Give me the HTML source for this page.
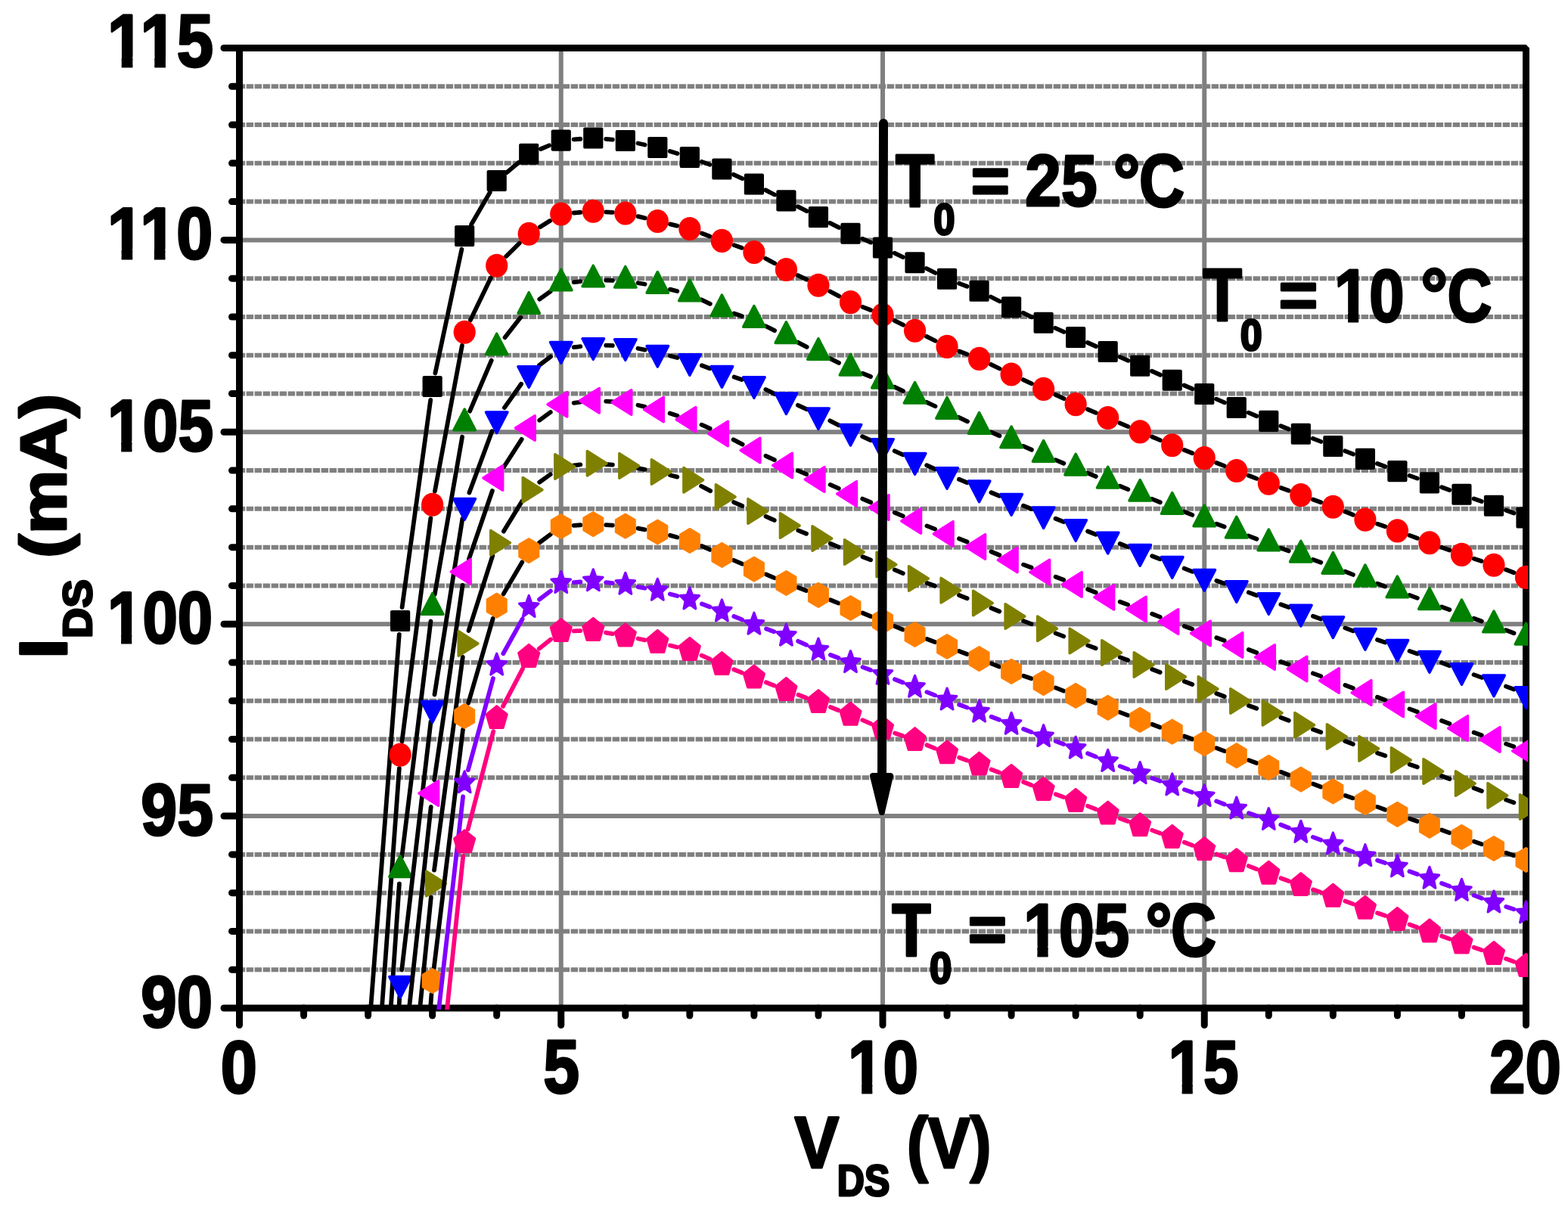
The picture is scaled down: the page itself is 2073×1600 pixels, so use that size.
<!DOCTYPE html><html><head><meta charset="utf-8"><title>I-V characteristics</title><style>html,body{margin:0;padding:0;background:#fff;width:2073px;height:1600px;overflow:hidden}svg{display:block}</style></head><body><svg width="2073" height="1600" viewBox="0 0 2073 1600"><defs><clipPath id="clip"><rect x="312" y="59" width="1708" height="1276"/></clipPath><clipPath id="c1"><path d="M-50 -200H1000V200H-50ZM1.14 -12.8H21.33V5H1.14ZM37.84 -12.8H70.53V5H37.84ZM87.03 -12.8H106V5H87.03Z" clip-rule="evenodd"/></clipPath><clipPath id="c2"><path d="M-50 -200H1000V200H-50ZM1.05 -12.65H21.01V5H1.05ZM37.32 -12.65H69.51V5H37.32ZM85.82 -12.65H104.57V5H85.82Z" clip-rule="evenodd"/></clipPath><clipPath id="c3"><path d="M-50 -200H1000V200H-50ZM1.05 -12.65H21.01V5H1.05ZM37.32 -12.65H56.07V5H37.32Z" clip-rule="evenodd"/></clipPath><clipPath id="c4"><path d="M-50 -200H1000V200H-50ZM1.05 -12.65H21.01V5H1.05ZM37.32 -12.65H56.07V5H37.32Z" clip-rule="evenodd"/></clipPath><clipPath id="c5"><path d="M-50 -200H1000V200H-50ZM1.11 -12.76H21.24V5H1.11ZM37.69 -12.76H56.59V5H37.69Z" clip-rule="evenodd"/></clipPath><clipPath id="c6"><path d="M-50 -200H1000V200H-50ZM1.2 -12.91H21.57V5H1.2ZM38.21 -12.91H57.33V5H38.21Z" clip-rule="evenodd"/></clipPath><clipPath id="c7"><path d="M-50 -200H1000V200H-50ZM1.15 -12.82H21.37V5H1.15ZM37.9 -12.82H56.89V5H37.9Z" clip-rule="evenodd"/></clipPath><clipPath id="c8"><path d="M-50 -200H1000V200H-50ZM1.1 -12.75H21.21V5H1.1ZM37.64 -12.75H56.52V5H37.64Z" clip-rule="evenodd"/></clipPath></defs><style>.mg{stroke:#808080;stroke-width:6;stroke-dasharray:9.5 1.5;stroke-dashoffset:3.65;stroke-linecap:butt}.Mg{stroke:#808080;stroke-width:6}.tk{stroke:#000;stroke-width:9;stroke-linecap:round}</style><rect width="100%" height="100%" fill="#fff"/><g id="grid"><line x1="318.25" y1="1282.22" x2="2017.5" y2="1282.22" class="mg"/><line x1="318.25" y1="1231.44" x2="2017.5" y2="1231.44" class="mg"/><line x1="318.25" y1="1180.66" x2="2017.5" y2="1180.66" class="mg"/><line x1="318.25" y1="1129.88" x2="2017.5" y2="1129.88" class="mg"/><line x1="318.25" y1="1028.32" x2="2017.5" y2="1028.32" class="mg"/><line x1="318.25" y1="977.54" x2="2017.5" y2="977.54" class="mg"/><line x1="318.25" y1="926.76" x2="2017.5" y2="926.76" class="mg"/><line x1="318.25" y1="875.98" x2="2017.5" y2="875.98" class="mg"/><line x1="318.25" y1="774.42" x2="2017.5" y2="774.42" class="mg"/><line x1="318.25" y1="723.64" x2="2017.5" y2="723.64" class="mg"/><line x1="318.25" y1="672.86" x2="2017.5" y2="672.86" class="mg"/><line x1="318.25" y1="622.08" x2="2017.5" y2="622.08" class="mg"/><line x1="318.25" y1="520.52" x2="2017.5" y2="520.52" class="mg"/><line x1="318.25" y1="469.74" x2="2017.5" y2="469.74" class="mg"/><line x1="318.25" y1="418.96" x2="2017.5" y2="418.96" class="mg"/><line x1="318.25" y1="368.18" x2="2017.5" y2="368.18" class="mg"/><line x1="318.25" y1="266.62" x2="2017.5" y2="266.62" class="mg"/><line x1="318.25" y1="215.84" x2="2017.5" y2="215.84" class="mg"/><line x1="318.25" y1="165.06" x2="2017.5" y2="165.06" class="mg"/><line x1="318.25" y1="114.28" x2="2017.5" y2="114.28" class="mg"/><line x1="316.5" y1="1079.1" x2="2017.5" y2="1079.1" class="Mg"/><line x1="316.5" y1="825.2" x2="2017.5" y2="825.2" class="Mg"/><line x1="316.5" y1="571.3" x2="2017.5" y2="571.3" class="Mg"/><line x1="316.5" y1="317.4" x2="2017.5" y2="317.4" class="Mg"/><line x1="741.75" y1="63.5" x2="741.75" y2="1333" class="Mg"/><line x1="1167" y1="63.5" x2="1167" y2="1333" class="Mg"/><line x1="1592.25" y1="63.5" x2="1592.25" y2="1333" class="Mg"/></g><g id="axes"><rect x="316.5" y="63.5" width="1701" height="1269.5" fill="none" stroke="#000" stroke-width="9" stroke-linejoin="bevel"/><line x1="316.5" y1="1333" x2="296" y2="1333" class="tk"/><line x1="316.5" y1="1282.22" x2="306.5" y2="1282.22" class="tk"/><line x1="316.5" y1="1231.44" x2="306.5" y2="1231.44" class="tk"/><line x1="316.5" y1="1180.66" x2="306.5" y2="1180.66" class="tk"/><line x1="316.5" y1="1129.88" x2="306.5" y2="1129.88" class="tk"/><line x1="316.5" y1="1079.1" x2="296" y2="1079.1" class="tk"/><line x1="316.5" y1="1028.32" x2="306.5" y2="1028.32" class="tk"/><line x1="316.5" y1="977.54" x2="306.5" y2="977.54" class="tk"/><line x1="316.5" y1="926.76" x2="306.5" y2="926.76" class="tk"/><line x1="316.5" y1="875.98" x2="306.5" y2="875.98" class="tk"/><line x1="316.5" y1="825.2" x2="296" y2="825.2" class="tk"/><line x1="316.5" y1="774.42" x2="306.5" y2="774.42" class="tk"/><line x1="316.5" y1="723.64" x2="306.5" y2="723.64" class="tk"/><line x1="316.5" y1="672.86" x2="306.5" y2="672.86" class="tk"/><line x1="316.5" y1="622.08" x2="306.5" y2="622.08" class="tk"/><line x1="316.5" y1="571.3" x2="296" y2="571.3" class="tk"/><line x1="316.5" y1="520.52" x2="306.5" y2="520.52" class="tk"/><line x1="316.5" y1="469.74" x2="306.5" y2="469.74" class="tk"/><line x1="316.5" y1="418.96" x2="306.5" y2="418.96" class="tk"/><line x1="316.5" y1="368.18" x2="306.5" y2="368.18" class="tk"/><line x1="316.5" y1="317.4" x2="296" y2="317.4" class="tk"/><line x1="316.5" y1="266.62" x2="306.5" y2="266.62" class="tk"/><line x1="316.5" y1="215.84" x2="306.5" y2="215.84" class="tk"/><line x1="316.5" y1="165.06" x2="306.5" y2="165.06" class="tk"/><line x1="316.5" y1="114.28" x2="306.5" y2="114.28" class="tk"/><line x1="316.5" y1="63.5" x2="296" y2="63.5" class="tk"/><line x1="316.5" y1="1333" x2="316.5" y2="1355.5" class="tk"/><line x1="401.55" y1="1333" x2="401.55" y2="1343" class="tk"/><line x1="486.6" y1="1333" x2="486.6" y2="1343" class="tk"/><line x1="571.65" y1="1333" x2="571.65" y2="1343" class="tk"/><line x1="656.7" y1="1333" x2="656.7" y2="1343" class="tk"/><line x1="741.75" y1="1333" x2="741.75" y2="1355.5" class="tk"/><line x1="826.8" y1="1333" x2="826.8" y2="1343" class="tk"/><line x1="911.85" y1="1333" x2="911.85" y2="1343" class="tk"/><line x1="996.9" y1="1333" x2="996.9" y2="1343" class="tk"/><line x1="1081.95" y1="1333" x2="1081.95" y2="1343" class="tk"/><line x1="1167" y1="1333" x2="1167" y2="1355.5" class="tk"/><line x1="1252.05" y1="1333" x2="1252.05" y2="1343" class="tk"/><line x1="1337.1" y1="1333" x2="1337.1" y2="1343" class="tk"/><line x1="1422.15" y1="1333" x2="1422.15" y2="1343" class="tk"/><line x1="1507.2" y1="1333" x2="1507.2" y2="1343" class="tk"/><line x1="1592.25" y1="1333" x2="1592.25" y2="1355.5" class="tk"/><line x1="1677.3" y1="1333" x2="1677.3" y2="1343" class="tk"/><line x1="1762.35" y1="1333" x2="1762.35" y2="1343" class="tk"/><line x1="1847.4" y1="1333" x2="1847.4" y2="1343" class="tk"/><line x1="1932.45" y1="1333" x2="1932.45" y2="1343" class="tk"/><line x1="2017.5" y1="1333" x2="2017.5" y2="1355.5" class="tk"/></g><g clip-path="url(#clip)"><g fill="none" stroke-width="5.8" stroke-linecap="round"><path d="M527.76 838.94L489.29 1345M531.57 803.19L569.21 528.81M575.4 493.44L610.42 329.56M623.1 296.68L647.78 254.32M670.09 227.9L685.84 214.85M714.99 197.02L725.98 192.33M758.71 184.36L767.32 183.74M801.22 183.89L809.85 184.61M843.47 189.53L852.65 191.47M885.66 199.99L895.52 203.01M927.92 213.86L938.3 217.64M969.91 230.81L981.36 236.19M1012.19 251.37L1024.14 257.53M1054.75 273.19L1066.62 279.21M1097.26 294.83L1109.17 300.92M1140.17 315.67L1151.31 320.58M1182.57 334.73L1193.96 340.02M1224.87 355.01L1236.71 360.99M1268.07 374.78L1278.56 378.72M1309.92 392.51L1321.76 398.49M1352.57 413.71L1364.15 419.29M1395.26 433.83L1406.52 438.92M1437.81 453L1449.01 458M1480.37 471.92L1491.51 476.83M1522.86 490.75L1534.06 495.75M1565.48 509.51L1576.49 514.24M1608.04 527.68L1618.99 532.32M1650.57 545.65L1661.5 550.25M1693.22 563.21L1703.9 567.44M1735.82 579.86L1746.36 583.89M1778.27 596.33L1788.96 600.57M1820.87 612.99L1831.4 617.01M1863.5 628.89L1873.83 632.61M1906.02 644.21L1916.36 647.94M1948.58 659.44L1958.85 663.06M1991.02 674.69L2001.45 678.56" stroke="#000000"/></g><g fill="#000000"><rect x="516.02" y="806.9" width="26.2" height="28.2" rx="2.2"/><rect x="558.55" y="496.9" width="26.2" height="28.2" rx="2.2"/><rect x="601.07" y="297.9" width="26.2" height="28.2" rx="2.2"/><rect x="643.6" y="224.9" width="26.2" height="28.2" rx="2.2"/><rect x="686.12" y="189.65" width="26.2" height="28.2" rx="2.2"/><rect x="728.65" y="171.5" width="26.2" height="28.2" rx="2.2"/><rect x="771.17" y="168.4" width="26.2" height="28.2" rx="2.2"/><rect x="813.7" y="171.9" width="26.2" height="28.2" rx="2.2"/><rect x="856.22" y="180.9" width="26.2" height="28.2" rx="2.2"/><rect x="898.75" y="193.9" width="26.2" height="28.2" rx="2.2"/><rect x="941.27" y="209.4" width="26.2" height="28.2" rx="2.2"/><rect x="983.8" y="229.4" width="26.2" height="28.2" rx="2.2"/><rect x="1026.33" y="251.3" width="26.2" height="28.2" rx="2.2"/><rect x="1068.85" y="272.9" width="26.2" height="28.2" rx="2.2"/><rect x="1111.38" y="294.65" width="26.2" height="28.2" rx="2.2"/><rect x="1153.9" y="313.4" width="26.2" height="28.2" rx="2.2"/><rect x="1196.43" y="333.15" width="26.2" height="28.2" rx="2.2"/><rect x="1238.95" y="354.65" width="26.2" height="28.2" rx="2.2"/><rect x="1281.47" y="370.65" width="26.2" height="28.2" rx="2.2"/><rect x="1324" y="392.15" width="26.2" height="28.2" rx="2.2"/><rect x="1366.53" y="412.65" width="26.2" height="28.2" rx="2.2"/><rect x="1409.05" y="431.9" width="26.2" height="28.2" rx="2.2"/><rect x="1451.58" y="450.9" width="26.2" height="28.2" rx="2.2"/><rect x="1494.1" y="469.65" width="26.2" height="28.2" rx="2.2"/><rect x="1536.62" y="488.65" width="26.2" height="28.2" rx="2.2"/><rect x="1579.15" y="506.9" width="26.2" height="28.2" rx="2.2"/><rect x="1621.67" y="524.9" width="26.2" height="28.2" rx="2.2"/><rect x="1664.2" y="542.8" width="26.2" height="28.2" rx="2.2"/><rect x="1706.73" y="559.65" width="26.2" height="28.2" rx="2.2"/><rect x="1749.25" y="575.9" width="26.2" height="28.2" rx="2.2"/><rect x="1791.78" y="592.8" width="26.2" height="28.2" rx="2.2"/><rect x="1834.3" y="609" width="26.2" height="28.2" rx="2.2"/><rect x="1876.83" y="624.3" width="26.2" height="28.2" rx="2.2"/><rect x="1919.35" y="639.65" width="26.2" height="28.2" rx="2.2"/><rect x="1961.88" y="654.65" width="26.2" height="28.2" rx="2.2"/><rect x="2004.4" y="670.4" width="26.2" height="28.2" rx="2.2"/></g><g fill="none" stroke-width="5.8" stroke-linecap="round"><path d="M527.83 1016.05L504.03 1345M531.42 980.26L569.36 685.09M574.94 649.59L610.88 456.91M621.92 423.23L648.96 367.27M669.13 338.97L686.79 321.53M713.91 300.18L727.06 292.07M758.69 281.51L767.33 280.74M801.24 280.35L809.83 280.9M843.36 286.09L852.77 288.41M885.92 296.4L895.25 298.6M927.88 308.49L938.35 312.41M970.49 324.12L980.78 327.78M1012.04 341.69L1024.29 348.31M1054.86 364.03L1066.51 369.72M1097.18 385.25L1109.25 391.6M1140.42 405.84L1151.06 410.01M1182.41 423.86L1194.12 429.64M1224.91 444.9L1236.66 450.75M1268.07 464.43L1278.56 468.37M1310.03 481.89L1321.64 487.51M1352.71 502.12L1364.01 507.28M1395.14 521.77L1406.64 527.23M1437.95 541.25L1448.88 545.85M1480.41 559.31L1491.46 564.09M1523 577.53L1533.92 582.12M1565.65 595.06L1576.33 599.29M1608.17 611.93L1618.86 616.17M1650.73 628.73L1661.35 632.87M1693.37 644.96L1703.75 648.74M1735.88 660.51L1746.29 664.34M1778.27 676.56L1788.95 680.79M1821.02 692.72L1831.25 696.28M1863.44 707.88L1873.89 711.77M1905.98 723.66L1916.39 727.49M1948.7 738.69L1958.73 741.96M1990.98 753.33L2001.5 757.32" stroke="#000000"/></g><g fill="#FF0000"><ellipse cx="529.12" cy="998.1" rx="14.6" ry="15.6"/><ellipse cx="571.65" cy="667.25" rx="14.6" ry="15.6"/><ellipse cx="614.17" cy="439.25" rx="14.6" ry="15.6"/><ellipse cx="656.7" cy="351.25" rx="14.6" ry="15.6"/><ellipse cx="699.22" cy="309.25" rx="14.6" ry="15.6"/><ellipse cx="741.75" cy="283" rx="14.6" ry="15.6"/><ellipse cx="784.27" cy="279.25" rx="14.6" ry="15.6"/><ellipse cx="826.8" cy="282" rx="14.6" ry="15.6"/><ellipse cx="869.32" cy="292.5" rx="14.6" ry="15.6"/><ellipse cx="911.85" cy="302.5" rx="14.6" ry="15.6"/><ellipse cx="954.38" cy="318.4" rx="14.6" ry="15.6"/><ellipse cx="996.9" cy="333.5" rx="14.6" ry="15.6"/><ellipse cx="1039.42" cy="356.5" rx="14.6" ry="15.6"/><ellipse cx="1081.95" cy="377.25" rx="14.6" ry="15.6"/><ellipse cx="1124.47" cy="399.6" rx="14.6" ry="15.6"/><ellipse cx="1167" cy="416.25" rx="14.6" ry="15.6"/><ellipse cx="1209.53" cy="437.25" rx="14.6" ry="15.6"/><ellipse cx="1252.05" cy="458.4" rx="14.6" ry="15.6"/><ellipse cx="1294.57" cy="474.4" rx="14.6" ry="15.6"/><ellipse cx="1337.1" cy="495" rx="14.6" ry="15.6"/><ellipse cx="1379.62" cy="514.4" rx="14.6" ry="15.6"/><ellipse cx="1422.15" cy="534.6" rx="14.6" ry="15.6"/><ellipse cx="1464.67" cy="552.5" rx="14.6" ry="15.6"/><ellipse cx="1507.2" cy="570.9" rx="14.6" ry="15.6"/><ellipse cx="1549.72" cy="588.75" rx="14.6" ry="15.6"/><ellipse cx="1592.25" cy="605.6" rx="14.6" ry="15.6"/><ellipse cx="1634.77" cy="622.5" rx="14.6" ry="15.6"/><ellipse cx="1677.3" cy="639.1" rx="14.6" ry="15.6"/><ellipse cx="1719.83" cy="654.6" rx="14.6" ry="15.6"/><ellipse cx="1762.35" cy="670.25" rx="14.6" ry="15.6"/><ellipse cx="1804.88" cy="687.1" rx="14.6" ry="15.6"/><ellipse cx="1847.4" cy="701.9" rx="14.6" ry="15.6"/><ellipse cx="1889.92" cy="717.75" rx="14.6" ry="15.6"/><ellipse cx="1932.45" cy="733.4" rx="14.6" ry="15.6"/><ellipse cx="1974.97" cy="747.25" rx="14.6" ry="15.6"/><ellipse cx="2017.5" cy="763.4" rx="14.6" ry="15.6"/></g><g fill="none" stroke-width="5.8" stroke-linecap="round"><path d="M527.9 1168.74L515.88 1345M531.31 1132.93L569.46 821.53M574.74 785.98L611.09 577.78M621.16 543.67L649.71 476.59M667.53 446.31L688.4 419.56M713.3 395.59L727.68 385.28M758.65 373.2L767.38 372.17M801.27 370.68L809.81 370.93M843.59 374.26L852.54 375.76M885.88 382.67L895.29 385M927.39 396.39L938.84 401.78M970.56 414.6L980.72 418.07M1012.28 431.25L1024.04 437.12M1054.71 452.66L1066.66 458.81M1097.39 474.22L1109.04 479.9M1140.4 493.74L1151.08 497.97M1182.51 511.65L1194.01 517.12M1225.05 531.82L1236.53 537.25M1267.59 551.89L1279.04 557.28M1310.3 571.42L1321.38 576.24M1352.82 589.92L1363.9 594.74M1395.45 608.17L1406.33 612.7M1438.04 625.67L1448.78 629.99M1480.57 642.77L1491.31 647.09M1523.09 659.87L1533.83 664.19M1565.69 676.78L1576.29 680.89M1608.36 692.84L1618.67 696.53M1650.7 708.58L1661.37 712.79M1693.41 724.84L1703.72 728.53M1735.92 740.07L1746.25 743.79M1778.31 755.78L1788.91 759.89M1821 771.77L1831.27 775.39M1863.45 787.01L1873.87 790.86M1906.02 802.57L1916.35 806.29M1948.58 817.77L1958.85 821.39M1990.97 833.18L2001.5 837.19" stroke="#000000"/></g><g fill="#008000" stroke="#008000" stroke-width="3.5" stroke-linejoin="round"><polygon points="529.12,1131.8 543.38,1159.4 514.88,1159.4"/><polygon points="571.65,784.7 585.9,812.3 557.4,812.3"/><polygon points="614.17,541.1 628.42,568.7 599.92,568.7"/><polygon points="656.7,441.2 670.95,468.8 642.45,468.8"/><polygon points="699.22,386.7 713.47,414.3 684.97,414.3"/><polygon points="741.75,356.2 756,383.8 727.5,383.8"/><polygon points="784.27,351.2 798.52,378.8 770.02,378.8"/><polygon points="826.8,352.45 841.05,380.05 812.55,380.05"/><polygon points="869.32,359.6 883.57,387.2 855.07,387.2"/><polygon points="911.85,370.1 926.1,397.7 897.6,397.7"/><polygon points="954.38,390.1 968.62,417.7 940.12,417.7"/><polygon points="996.9,404.6 1011.15,432.2 982.65,432.2"/><polygon points="1039.42,425.8 1053.67,453.4 1025.17,453.4"/><polygon points="1081.95,447.7 1096.2,475.3 1067.7,475.3"/><polygon points="1124.47,468.45 1138.72,496.05 1110.22,496.05"/><polygon points="1167,485.3 1181.25,512.9 1152.75,512.9"/><polygon points="1209.53,505.5 1223.78,533.1 1195.28,533.1"/><polygon points="1252.05,525.6 1266.3,553.2 1237.8,553.2"/><polygon points="1294.57,545.6 1308.82,573.2 1280.32,573.2"/><polygon points="1337.1,564.1 1351.35,591.7 1322.85,591.7"/><polygon points="1379.62,582.6 1393.88,610.2 1365.38,610.2"/><polygon points="1422.15,600.3 1436.4,627.9 1407.9,627.9"/><polygon points="1464.67,617.4 1478.92,645 1450.42,645"/><polygon points="1507.2,634.5 1521.45,662.1 1492.95,662.1"/><polygon points="1549.72,651.6 1563.97,679.2 1535.47,679.2"/><polygon points="1592.25,668.1 1606.5,695.7 1578,695.7"/><polygon points="1634.77,683.3 1649.02,710.9 1620.52,710.9"/><polygon points="1677.3,700.1 1691.55,727.7 1663.05,727.7"/><polygon points="1719.83,715.3 1734.08,742.9 1705.58,742.9"/><polygon points="1762.35,730.6 1776.6,758.2 1748.1,758.2"/><polygon points="1804.88,747.1 1819.12,774.7 1790.62,774.7"/><polygon points="1847.4,762.1 1861.65,789.7 1833.15,789.7"/><polygon points="1889.92,777.8 1904.17,805.4 1875.67,805.4"/><polygon points="1932.45,793.1 1946.7,820.7 1918.2,820.7"/><polygon points="1974.97,808.1 1989.22,835.7 1960.72,835.7"/><polygon points="2017.5,824.3 2031.75,851.9 2003.25,851.9"/></g><g fill="none" stroke-width="5.8" stroke-linecap="round"><path d="M528.23 1318.19L526.91 1345M531.21 1282.35L569.56 954.08M574.47 918.47L611.36 685.97M620.39 651.46L650.49 570.32M666.88 539.15L689.05 507.74M713.05 482.85L727.92 471.59M758.65 459.21L767.37 458.22M801.27 456.72L809.8 456.92M843.49 460.75L852.64 462.63M885.82 470.43L895.36 472.95M927.88 483.31L938.35 487.22M970.6 498.6L980.68 501.94M1012.28 514.98L1024.04 520.85M1054.95 535.84L1066.42 541.24M1097.29 556.32L1109.13 562.31M1140.09 577.17L1151.38 582.31M1182.69 596.35L1193.84 601.28M1225.18 615.25L1236.4 620.29M1267.91 633.8L1278.72 638.23M1310.42 651.24L1321.25 655.7M1352.97 668.67L1363.76 673.06M1395.55 685.81L1406.22 690.02M1438.1 702.54L1448.72 706.69M1480.66 719.04L1491.22 723.09M1523.22 735.24L1533.71 739.19M1565.63 751.57L1576.35 755.86M1608.37 767.94L1618.66 771.59M1650.79 783.34L1661.28 787.29M1693.36 799.21L1703.76 803.02M1735.9 814.78L1746.28 818.56M1778.39 830.38L1788.83 834.26M1821 845.91L1831.27 849.53M1863.54 860.87L1873.79 864.46M1905.92 876.21L1916.45 880.22M1948.54 892.14L1958.89 895.89M1991.04 907.61L2001.44 911.42" stroke="#000000"/></g><g fill="#0000FF" stroke="#0000FF" stroke-width="3.5" stroke-linejoin="round"><polygon points="514.88,1291.6 543.38,1291.6 529.12,1319.2"/><polygon points="557.4,927.6 585.9,927.6 571.65,955.2"/><polygon points="599.92,659.6 628.42,659.6 614.17,687.2"/><polygon points="642.45,544.95 670.95,544.95 656.7,572.55"/><polygon points="684.97,484.7 713.47,484.7 699.22,512.3"/><polygon points="727.5,452.5 756,452.5 741.75,480.1"/><polygon points="770.02,447.7 798.52,447.7 784.27,475.3"/><polygon points="812.55,448.7 841.05,448.7 826.8,476.3"/><polygon points="855.07,457.45 883.57,457.45 869.32,485.05"/><polygon points="897.6,468.7 926.1,468.7 911.85,496.3"/><polygon points="940.12,484.6 968.62,484.6 954.38,512.2"/><polygon points="982.65,498.7 1011.15,498.7 996.9,526.3"/><polygon points="1025.17,519.9 1053.67,519.9 1039.42,547.5"/><polygon points="1067.7,539.95 1096.2,539.95 1081.95,567.55"/><polygon points="1110.22,561.45 1138.72,561.45 1124.47,589.05"/><polygon points="1152.75,580.8 1181.25,580.8 1167,608.4"/><polygon points="1195.28,599.6 1223.78,599.6 1209.53,627.2"/><polygon points="1237.8,618.7 1266.3,618.7 1252.05,646.3"/><polygon points="1280.32,636.1 1308.82,636.1 1294.57,663.7"/><polygon points="1322.85,653.6 1351.35,653.6 1337.1,681.2"/><polygon points="1365.38,670.9 1393.88,670.9 1379.62,698.5"/><polygon points="1407.9,687.7 1436.4,687.7 1422.15,715.3"/><polygon points="1450.42,704.3 1478.92,704.3 1464.67,731.9"/><polygon points="1492.95,720.6 1521.45,720.6 1507.2,748.2"/><polygon points="1535.47,736.6 1563.97,736.6 1549.72,764.2"/><polygon points="1578,753.6 1606.5,753.6 1592.25,781.2"/><polygon points="1620.52,768.7 1649.02,768.7 1634.77,796.3"/><polygon points="1663.05,784.7 1691.55,784.7 1677.3,812.3"/><polygon points="1705.58,800.3 1734.08,800.3 1719.83,827.9"/><polygon points="1748.1,815.8 1776.6,815.8 1762.35,843.4"/><polygon points="1790.62,831.6 1819.12,831.6 1804.88,859.2"/><polygon points="1833.15,846.6 1861.65,846.6 1847.4,874.2"/><polygon points="1875.67,861.5 1904.17,861.5 1889.92,889.1"/><polygon points="1918.2,877.7 1946.7,877.7 1932.45,905.3"/><polygon points="1960.72,893.1 1989.22,893.1 1974.97,920.7"/><polygon points="2003.25,908.7 2031.75,908.7 2017.5,936.3"/></g><g fill="none" stroke-width="5.8" stroke-linecap="round"><path d="M569.72 1066.98L539.7 1345M574.23 1031.31L611.59 773.79M619.98 739.08L650.89 649.02M666.27 617.22L689.65 580.88M713.19 555.74L727.78 545.01M758.65 532.76L767.38 531.74M801.25 530.69L809.82 531.16M843.44 535.78L852.68 537.82M885.63 546.58L895.54 549.67M927.54 561.67L938.68 566.58M969.65 581.4L981.63 587.6M1012.44 602.81L1023.89 608.19M1055.16 622.31L1066.21 627.09M1097.61 640.9L1108.81 645.9M1140.25 659.61L1151.23 664.29M1182.77 677.71L1193.75 682.39M1225.45 695.39L1236.12 699.61M1267.95 712.26L1278.67 716.54M1310.4 729.49L1321.28 734.01M1353.12 746.63L1363.61 750.57M1395.61 762.73L1406.17 766.77M1438.07 779.21L1448.75 783.44M1480.71 795.73L1491.16 799.62M1523.16 811.79L1533.76 815.91M1565.81 827.93L1576.16 831.67M1608.34 843.33L1618.69 847.07M1650.77 858.99L1661.3 863.01M1693.39 874.93L1703.74 878.67M1735.9 890.36L1746.28 894.14M1778.38 905.99L1788.85 909.91M1820.94 921.79L1831.34 925.61M1863.46 937.39L1873.86 941.21M1905.97 953.06L1916.41 956.94M1948.58 968.59L1958.85 972.21M1991.09 983.62L2001.38 987.28" stroke="#000000"/></g><g fill="#FF00FF" stroke="#FF00FF" stroke-width="3.5" stroke-linejoin="round"><polygon points="553.93,1049.1 579.63,1032.85 579.63,1065.35"/><polygon points="596.46,756 622.16,739.75 622.16,772.25"/><polygon points="638.98,632.1 664.68,615.85 664.68,648.35"/><polygon points="681.51,566 707.21,549.75 707.21,582.25"/><polygon points="724.03,534.75 749.73,518.5 749.73,551"/><polygon points="766.56,529.75 792.26,513.5 792.26,546"/><polygon points="809.08,532.1 834.78,515.85 834.78,548.35"/><polygon points="851.61,541.5 877.31,525.25 877.31,557.75"/><polygon points="894.13,554.75 919.83,538.5 919.83,571"/><polygon points="936.66,573.5 962.36,557.25 962.36,589.75"/><polygon points="979.18,595.5 1004.88,579.25 1004.88,611.75"/><polygon points="1021.71,615.5 1047.41,599.25 1047.41,631.75"/><polygon points="1064.23,633.9 1089.93,617.65 1089.93,650.15"/><polygon points="1106.76,652.9 1132.46,636.65 1132.46,669.15"/><polygon points="1149.28,671 1174.98,654.75 1174.98,687.25"/><polygon points="1191.81,689.1 1217.51,672.85 1217.51,705.35"/><polygon points="1234.33,705.9 1260.03,689.65 1260.03,722.15"/><polygon points="1276.86,722.9 1302.56,706.65 1302.56,739.15"/><polygon points="1319.38,740.6 1345.08,724.35 1345.08,756.85"/><polygon points="1361.91,756.6 1387.61,740.35 1387.61,772.85"/><polygon points="1404.43,772.9 1430.13,756.65 1430.13,789.15"/><polygon points="1446.96,789.75 1472.66,773.5 1472.66,806"/><polygon points="1489.48,805.6 1515.18,789.35 1515.18,821.85"/><polygon points="1532.01,822.1 1557.71,805.85 1557.71,838.35"/><polygon points="1574.53,837.5 1600.23,821.25 1600.23,853.75"/><polygon points="1617.06,852.9 1642.76,836.65 1642.76,869.15"/><polygon points="1659.58,869.1 1685.28,852.85 1685.28,885.35"/><polygon points="1702.11,884.5 1727.81,868.25 1727.81,900.75"/><polygon points="1744.63,900 1770.33,883.75 1770.33,916.25"/><polygon points="1787.16,915.9 1812.86,899.65 1812.86,932.15"/><polygon points="1829.68,931.5 1855.38,915.25 1855.38,947.75"/><polygon points="1872.21,947.1 1897.91,930.85 1897.91,963.35"/><polygon points="1914.73,962.9 1940.43,946.65 1940.43,979.15"/><polygon points="1957.26,977.9 1982.96,961.65 1982.96,994.15"/><polygon points="1999.78,993 2025.48,976.75 2025.48,1009.25"/></g><g fill="none" stroke-width="5.8" stroke-linecap="round"><path d="M569.86 1186.4L554 1345M574.04 1150.68L611.79 868.82M619.62 833.95L651.26 734.8M665.9 702.61L690.03 662.89M713.28 637.62L727.7 627.23M758.67 615.37L767.35 614.48M801.23 614.01L809.84 614.64M843.52 619.13L852.6 620.87M885.87 628.24L895.31 630.61M927.08 642.75L939.15 649.1M970.06 664.04L981.21 668.96M1012.55 682.93L1023.77 687.97M1055.32 701.39L1066.06 705.71M1097.75 718.75L1108.68 723.35M1140.43 736.23L1151.05 740.37M1182.74 753.41L1193.79 758.19M1225.58 770.93L1236 774.77M1267.98 786.99L1278.65 791.21M1310.42 804.02L1321.25 808.48M1353.09 821.11L1363.63 825.14M1395.62 837.36L1406.16 841.39M1438.21 853.39L1448.61 857.21M1480.69 869.13L1491.18 873.07M1523.23 885.09L1533.7 889.01M1565.75 900.99L1576.22 904.91M1608.26 916.96L1618.77 920.94M1650.82 932.94L1661.25 936.81M1693.32 948.78L1703.81 952.72M1735.92 964.56L1746.26 968.29M1778.38 980.09L1788.85 984.01M1821 995.69L1831.27 999.31M1863.53 1010.69L1873.8 1014.31M1905.93 1026.06L1916.44 1030.04M1948.49 1042.06L1958.93 1045.94M1991.09 1057.62L2001.38 1061.28" stroke="#000000"/></g><g fill="#808000" stroke="#808000" stroke-width="3.5" stroke-linejoin="round"><polygon points="589.37,1168.5 563.67,1152.25 563.67,1184.75"/><polygon points="631.89,851 606.19,834.75 606.19,867.25"/><polygon points="674.42,717.75 648.72,701.5 648.72,734"/><polygon points="716.94,647.75 691.24,631.5 691.24,664"/><polygon points="759.47,617.1 733.77,600.85 733.77,633.35"/><polygon points="801.99,612.75 776.29,596.5 776.29,629"/><polygon points="844.52,615.9 818.82,599.65 818.82,632.15"/><polygon points="887.04,624.1 861.34,607.85 861.34,640.35"/><polygon points="929.57,634.75 903.87,618.5 903.87,651"/><polygon points="972.09,657.1 946.39,640.85 946.39,673.35"/><polygon points="1014.62,675.9 988.92,659.65 988.92,692.15"/><polygon points="1057.14,695 1031.44,678.75 1031.44,711.25"/><polygon points="1099.67,712.1 1073.97,695.85 1073.97,728.35"/><polygon points="1142.19,730 1116.49,713.75 1116.49,746.25"/><polygon points="1184.72,746.6 1159.02,730.35 1159.02,762.85"/><polygon points="1227.24,765 1201.54,748.75 1201.54,781.25"/><polygon points="1269.77,780.7 1244.07,764.45 1244.07,796.95"/><polygon points="1312.29,797.5 1286.59,781.25 1286.59,813.75"/><polygon points="1354.82,815 1329.12,798.75 1329.12,831.25"/><polygon points="1397.34,831.25 1371.64,815 1371.64,847.5"/><polygon points="1439.87,847.5 1414.17,831.25 1414.17,863.75"/><polygon points="1482.39,863.1 1456.69,846.85 1456.69,879.35"/><polygon points="1524.92,879.1 1499.22,862.85 1499.22,895.35"/><polygon points="1567.44,895 1541.74,878.75 1541.74,911.25"/><polygon points="1609.97,910.9 1584.27,894.65 1584.27,927.15"/><polygon points="1652.49,927 1626.79,910.75 1626.79,943.25"/><polygon points="1695.02,942.75 1669.32,926.5 1669.32,959"/><polygon points="1737.54,958.75 1711.84,942.5 1711.84,975"/><polygon points="1780.07,974.1 1754.37,957.85 1754.37,990.35"/><polygon points="1822.59,990 1796.89,973.75 1796.89,1006.25"/><polygon points="1865.12,1005 1839.42,988.75 1839.42,1021.25"/><polygon points="1907.64,1020 1881.94,1003.75 1881.94,1036.25"/><polygon points="1950.17,1036.1 1924.47,1019.85 1924.47,1052.35"/><polygon points="1992.69,1051.9 1966.99,1035.65 1966.99,1068.15"/><polygon points="2035.22,1067 2009.52,1050.75 2009.52,1083.25"/></g><g fill="none" stroke-width="5.8" stroke-linecap="round"><path d="M570.38 1314.95L568.25 1345M573.82 1279.15L612.01 964.75M619.18 929.7L651.7 817.9M665.66 785.4L690.26 743.4M713.07 717.65L727.91 706.45M758.71 694.84L767.31 694.26M801.25 694.1L809.83 694.6M843.54 698.71L852.58 700.39M885.81 707.92L895.37 710.48M927.51 721.9L938.71 726.9M970.07 740.8L981.2 745.7M1012.64 759.41L1023.69 764.19M1055.45 776.99L1065.92 780.91M1097.84 793.29L1108.58 797.61M1140.31 810.55L1151.17 815.05M1182.86 828.09L1193.67 832.51M1225.54 845.03L1236.03 848.97M1268.06 861.06L1278.57 865.04M1310.5 877.39L1321.17 881.61M1353.21 893.66L1363.52 897.34M1395.55 909.39L1406.22 913.61M1438.18 925.89L1448.65 929.81M1480.68 941.86L1491.19 945.84M1523.25 957.83L1533.67 961.67M1565.8 973.46L1576.18 977.24M1608.26 989.16L1618.77 993.14M1650.83 1005.13L1661.25 1008.97M1693.35 1020.83L1703.77 1024.67M1735.87 1036.56L1746.31 1040.44M1778.53 1051.92L1788.69 1055.38M1820.9 1066.89L1831.37 1070.81M1863.53 1082.49L1873.8 1086.11M1906.04 1097.52L1916.33 1101.18M1948.57 1112.62L1958.86 1116.28M1991.1 1127.69L2001.37 1131.31" stroke="#000000"/></g><g fill="#FF8000" stroke="#FF8000" stroke-width="2.4" stroke-linejoin="round"><polygon points="571.65,1281.2 584.45,1288.78 584.45,1305.22 571.65,1312.8 558.85,1305.22 558.85,1288.78"/><polygon points="614.17,931.1 626.97,938.68 626.97,955.12 614.17,962.7 601.38,955.12 601.38,938.68"/><polygon points="656.7,784.9 669.5,792.48 669.5,808.92 656.7,816.5 643.9,808.92 643.9,792.48"/><polygon points="699.22,712.3 712.02,719.88 712.02,736.32 699.22,743.9 686.42,736.32 686.42,719.88"/><polygon points="741.75,680.2 754.55,687.78 754.55,704.22 741.75,711.8 728.95,704.22 728.95,687.78"/><polygon points="784.27,677.3 797.07,684.88 797.07,701.32 784.27,708.9 771.48,701.32 771.48,684.88"/><polygon points="826.8,679.8 839.6,687.38 839.6,703.82 826.8,711.4 814,703.82 814,687.38"/><polygon points="869.32,687.7 882.12,695.28 882.12,711.72 869.32,719.3 856.52,711.72 856.52,695.28"/><polygon points="911.85,699.1 924.65,706.68 924.65,723.12 911.85,730.7 899.05,723.12 899.05,706.68"/><polygon points="954.38,718.1 967.17,725.68 967.17,742.12 954.38,749.7 941.58,742.12 941.58,725.68"/><polygon points="996.9,736.8 1009.7,744.38 1009.7,760.82 996.9,768.4 984.1,760.82 984.1,744.38"/><polygon points="1039.42,755.2 1052.22,762.78 1052.22,779.22 1039.42,786.8 1026.62,779.22 1026.62,762.78"/><polygon points="1081.95,771.1 1094.75,778.68 1094.75,795.12 1081.95,802.7 1069.15,795.12 1069.15,778.68"/><polygon points="1124.47,788.2 1137.27,795.78 1137.27,812.22 1124.47,819.8 1111.67,812.22 1111.67,795.78"/><polygon points="1167,805.8 1179.8,813.38 1179.8,829.82 1167,837.4 1154.2,829.82 1154.2,813.38"/><polygon points="1209.53,823.2 1222.33,830.78 1222.33,847.22 1209.53,854.8 1196.73,847.22 1196.73,830.78"/><polygon points="1252.05,839.2 1264.85,846.78 1264.85,863.22 1252.05,870.8 1239.25,863.22 1239.25,846.78"/><polygon points="1294.57,855.3 1307.37,862.88 1307.37,879.32 1294.57,886.9 1281.77,879.32 1281.77,862.88"/><polygon points="1337.1,872.1 1349.9,879.68 1349.9,896.12 1337.1,903.7 1324.3,896.12 1324.3,879.68"/><polygon points="1379.62,887.3 1392.42,894.88 1392.42,911.32 1379.62,918.9 1366.83,911.32 1366.83,894.88"/><polygon points="1422.15,904.1 1434.95,911.68 1434.95,928.12 1422.15,935.7 1409.35,928.12 1409.35,911.68"/><polygon points="1464.67,920 1477.47,927.58 1477.47,944.02 1464.67,951.6 1451.88,944.02 1451.88,927.58"/><polygon points="1507.2,936.1 1520,943.68 1520,960.12 1507.2,967.7 1494.4,960.12 1494.4,943.68"/><polygon points="1549.72,951.8 1562.52,959.38 1562.52,975.82 1549.72,983.4 1536.92,975.82 1536.92,959.38"/><polygon points="1592.25,967.3 1605.05,974.88 1605.05,991.32 1592.25,998.9 1579.45,991.32 1579.45,974.88"/><polygon points="1634.77,983.4 1647.57,990.98 1647.57,1007.42 1634.77,1015 1621.97,1007.42 1621.97,990.98"/><polygon points="1677.3,999.1 1690.1,1006.68 1690.1,1023.12 1677.3,1030.7 1664.5,1023.12 1664.5,1006.68"/><polygon points="1719.83,1014.8 1732.62,1022.38 1732.62,1038.82 1719.83,1046.4 1707.03,1038.82 1707.03,1022.38"/><polygon points="1762.35,1030.6 1775.15,1038.18 1775.15,1054.62 1762.35,1062.2 1749.55,1054.62 1749.55,1038.18"/><polygon points="1804.88,1045.1 1817.67,1052.68 1817.67,1069.12 1804.88,1076.7 1792.08,1069.12 1792.08,1052.68"/><polygon points="1847.4,1061 1860.2,1068.58 1860.2,1085.02 1847.4,1092.6 1834.6,1085.02 1834.6,1068.58"/><polygon points="1889.92,1076 1902.72,1083.58 1902.72,1100.02 1889.92,1107.6 1877.12,1100.02 1877.12,1083.58"/><polygon points="1932.45,1091.1 1945.25,1098.68 1945.25,1115.12 1932.45,1122.7 1919.65,1115.12 1919.65,1098.68"/><polygon points="1974.97,1106.2 1987.77,1113.78 1987.77,1130.22 1974.97,1137.8 1962.17,1130.22 1962.17,1113.78"/><polygon points="2017.5,1121.2 2030.3,1128.78 2030.3,1145.22 2017.5,1152.8 2004.7,1145.22 2004.7,1128.78"/></g><g fill="none" stroke-width="5.8" stroke-linecap="round"><path d="M612.14 1053.26L578.93 1345M618.9 1018.1L651.98 897.03M665.31 864.22L690.62 818.56M713.1 792.64L727.88 781.55M758.72 770.04L767.31 769.49M801.19 770.18L809.88 771.1M843.53 776.06L852.59 777.77M885.79 785.43L895.39 788.05M927.87 798.57L938.36 802.51M970.24 815L981.03 819.39M1013.03 831.53L1023.3 835.15M1055.1 847.81L1066.27 852.78M1097.91 865.94L1108.51 870.05M1140.53 882.15L1150.94 885.98M1182.9 898.25L1193.62 902.53M1225.46 915.17L1236.12 919.37M1268.07 931.67L1278.56 935.61M1310.57 947.75L1321.11 951.78M1353.08 964.04L1363.65 968.1M1395.69 980.13L1406.09 983.95M1438.03 996.27L1448.79 1000.62M1480.67 1013.14L1491.2 1017.15M1523.3 1029.03L1533.63 1032.75M1565.89 1044.13L1576.09 1047.66M1608.22 1059.4L1618.8 1063.48M1650.95 1075.19L1661.13 1078.69M1693.24 1090.5L1703.89 1094.68M1735.88 1106.87L1746.3 1110.72M1778.4 1122.57L1788.82 1126.42M1821.1 1137.72L1831.18 1141.06M1863.47 1152.3L1873.85 1156.08M1905.94 1167.97L1916.43 1171.91M1948.5 1183.87L1958.92 1187.72M1991.22 1198.95L2001.26 1202.23" stroke="#8000FF"/></g><g fill="#8000FF" stroke="#8000FF" stroke-width="3.2" stroke-linejoin="round"><polygon points="614.17,1019.8 617.71,1029.61 626.88,1030.46 619.89,1037.37 622.02,1047.7 614.17,1042.16 606.33,1047.7 608.46,1037.37 601.47,1030.46 610.64,1029.61"/><polygon points="656.7,864.15 660.23,873.96 669.4,874.81 662.42,881.72 664.55,892.05 656.7,886.51 648.85,892.05 650.98,881.72 644,874.81 653.17,873.96"/><polygon points="699.22,787.45 702.76,797.26 711.93,798.11 704.94,805.02 707.07,815.35 699.22,809.81 691.38,815.35 693.51,805.02 686.52,798.11 695.69,797.26"/><polygon points="741.75,755.55 745.28,765.36 754.45,766.21 747.47,773.12 749.6,783.45 741.75,777.91 733.9,783.45 736.03,773.12 729.05,766.21 738.22,765.36"/><polygon points="784.27,752.8 787.81,762.61 796.98,763.46 789.99,770.37 792.12,780.7 784.27,775.16 776.43,780.7 778.56,770.37 771.57,763.46 780.74,762.61"/><polygon points="826.8,757.3 830.33,767.11 839.5,767.96 832.52,774.87 834.65,785.2 826.8,779.66 818.95,785.2 821.08,774.87 814.1,767.96 823.27,767.11"/><polygon points="869.32,765.35 872.86,775.16 882.03,776.01 875.04,782.92 877.17,793.25 869.32,787.71 861.48,793.25 863.61,782.92 856.62,776.01 865.79,775.16"/><polygon points="911.85,776.95 915.38,786.76 924.55,787.61 917.57,794.52 919.7,804.85 911.85,799.31 904,804.85 906.13,794.52 899.15,787.61 908.32,786.76"/><polygon points="954.38,792.95 957.91,802.76 967.08,803.61 960.09,810.52 962.22,820.85 954.38,815.31 946.53,820.85 948.66,810.52 941.67,803.61 950.84,802.76"/><polygon points="996.9,810.25 1000.43,820.06 1009.6,820.91 1002.62,827.82 1004.75,838.15 996.9,832.61 989.05,838.15 991.18,827.82 984.2,820.91 993.37,820.06"/><polygon points="1039.42,825.25 1042.96,835.06 1052.13,835.91 1045.14,842.82 1047.27,853.15 1039.42,847.61 1031.58,853.15 1033.71,842.82 1026.72,835.91 1035.89,835.06"/><polygon points="1081.95,844.15 1085.48,853.96 1094.65,854.81 1087.67,861.72 1089.8,872.05 1081.95,866.51 1074.1,872.05 1076.23,861.72 1069.25,854.81 1078.42,853.96"/><polygon points="1124.47,860.65 1128.01,870.46 1137.18,871.31 1130.19,878.22 1132.32,888.55 1124.47,883.01 1116.63,888.55 1118.76,878.22 1111.77,871.31 1120.94,870.46"/><polygon points="1167,876.3 1170.53,886.11 1179.7,886.96 1172.72,893.87 1174.85,904.2 1167,898.66 1159.15,904.2 1161.28,893.87 1154.3,886.96 1163.47,886.11"/><polygon points="1209.53,893.3 1213.06,903.11 1222.23,903.96 1215.24,910.87 1217.37,921.2 1209.53,915.66 1201.68,921.2 1203.81,910.87 1196.82,903.96 1205.99,903.11"/><polygon points="1252.05,910.05 1255.58,919.86 1264.75,920.71 1257.77,927.62 1259.9,937.95 1252.05,932.41 1244.2,937.95 1246.33,927.62 1239.35,920.71 1248.52,919.86"/><polygon points="1294.57,926.05 1298.11,935.86 1307.28,936.71 1300.29,943.62 1302.42,953.95 1294.57,948.41 1286.73,953.95 1288.86,943.62 1281.87,936.71 1291.04,935.86"/><polygon points="1337.1,942.3 1340.63,952.11 1349.8,952.96 1342.82,959.87 1344.95,970.2 1337.1,964.66 1329.25,970.2 1331.38,959.87 1324.4,952.96 1333.57,952.11"/><polygon points="1379.62,958.65 1383.16,968.46 1392.33,969.31 1385.34,976.22 1387.47,986.55 1379.62,981.01 1371.78,986.55 1373.91,976.22 1366.92,969.31 1376.09,968.46"/><polygon points="1422.15,974.25 1425.68,984.06 1434.85,984.91 1427.87,991.82 1430,1002.15 1422.15,996.61 1414.3,1002.15 1416.43,991.82 1409.45,984.91 1418.62,984.06"/><polygon points="1464.67,991.45 1468.21,1001.26 1477.38,1002.11 1470.39,1009.02 1472.52,1019.35 1464.67,1013.81 1456.83,1019.35 1458.96,1009.02 1451.97,1002.11 1461.14,1001.26"/><polygon points="1507.2,1007.65 1510.73,1017.46 1519.9,1018.31 1512.92,1025.22 1515.05,1035.55 1507.2,1030.01 1499.35,1035.55 1501.48,1025.22 1494.5,1018.31 1503.67,1017.46"/><polygon points="1549.72,1022.95 1553.26,1032.76 1562.43,1033.61 1555.44,1040.52 1557.57,1050.85 1549.72,1045.31 1541.88,1050.85 1544.01,1040.52 1537.02,1033.61 1546.19,1032.76"/><polygon points="1592.25,1037.65 1595.78,1047.46 1604.95,1048.31 1597.97,1055.22 1600.1,1065.55 1592.25,1060.01 1584.4,1065.55 1586.53,1055.22 1579.55,1048.31 1588.72,1047.46"/><polygon points="1634.77,1054.05 1638.31,1063.86 1647.48,1064.71 1640.49,1071.62 1642.62,1081.95 1634.77,1076.41 1626.93,1081.95 1629.06,1071.62 1622.07,1064.71 1631.24,1063.86"/><polygon points="1677.3,1068.65 1680.83,1078.46 1690,1079.31 1683.02,1086.22 1685.15,1096.55 1677.3,1091.01 1669.45,1096.55 1671.58,1086.22 1664.6,1079.31 1673.77,1078.46"/><polygon points="1719.83,1085.35 1723.36,1095.16 1732.53,1096.01 1725.54,1102.92 1727.67,1113.25 1719.83,1107.71 1711.98,1113.25 1714.11,1102.92 1707.12,1096.01 1716.29,1095.16"/><polygon points="1762.35,1101.05 1765.88,1110.86 1775.05,1111.71 1768.07,1118.62 1770.2,1128.95 1762.35,1123.41 1754.5,1128.95 1756.63,1118.62 1749.65,1111.71 1758.82,1110.86"/><polygon points="1804.88,1116.75 1808.41,1126.56 1817.58,1127.41 1810.59,1134.32 1812.72,1144.65 1804.88,1139.11 1797.03,1144.65 1799.16,1134.32 1792.17,1127.41 1801.34,1126.56"/><polygon points="1847.4,1130.85 1850.93,1140.66 1860.1,1141.51 1853.12,1148.42 1855.25,1158.75 1847.4,1153.21 1839.55,1158.75 1841.68,1148.42 1834.7,1141.51 1843.87,1140.66"/><polygon points="1889.92,1146.35 1893.46,1156.16 1902.63,1157.01 1895.64,1163.92 1897.77,1174.25 1889.92,1168.71 1882.08,1174.25 1884.21,1163.92 1877.22,1157.01 1886.39,1156.16"/><polygon points="1932.45,1162.35 1935.98,1172.16 1945.15,1173.01 1938.17,1179.92 1940.3,1190.25 1932.45,1184.71 1924.6,1190.25 1926.73,1179.92 1919.75,1173.01 1928.92,1172.16"/><polygon points="1974.97,1178.05 1978.51,1187.86 1987.68,1188.71 1980.69,1195.62 1982.82,1205.95 1974.97,1200.41 1967.13,1205.95 1969.26,1195.62 1962.27,1188.71 1971.44,1187.86"/><polygon points="2017.5,1191.95 2021.03,1201.76 2030.2,1202.61 2023.22,1209.52 2025.35,1219.85 2017.5,1214.31 2009.65,1219.85 2011.78,1209.52 2004.8,1202.61 2013.97,1201.76"/></g><g fill="none" stroke-width="5.8" stroke-linecap="round"><path d="M612.3 1131.88L589.94 1345M618.67 1096.63L652.2 967.15M664.94 934.05L690.98 884.33M712.82 857.78L728.15 845.6M758.74 834.31L767.28 834.07M801.04 836.55L810.03 838.13M843.5 844.47L852.63 846.31M885.93 853.55L895.25 855.72M927.49 866.65L938.74 871.73M970.24 885.25L981.03 889.63M1012.85 902.32L1023.47 906.46M1055.43 918.75L1065.94 922.73M1097.89 935.03L1108.53 939.2M1140.23 952.2L1151.24 956.93M1183.12 969.41L1193.41 973.07M1225.41 985.21L1236.17 989.57M1268.15 1001.78L1278.48 1005.5M1310.55 1017.45L1321.13 1021.53M1353.02 1034.01L1363.71 1038.26M1395.75 1050.28L1406.02 1053.9M1438.09 1065.85L1448.74 1070.03M1480.73 1082.2L1491.14 1086.03M1523.26 1097.85L1533.67 1101.68M1565.72 1113.68L1576.25 1117.7M1608.37 1129.51L1618.66 1133.17M1650.74 1145.08L1661.34 1149.2M1693.39 1161.21L1703.74 1164.96M1735.99 1176.36L1746.18 1179.87M1778.37 1191.45L1788.85 1195.38M1820.98 1207.15L1831.29 1210.83M1863.47 1222.45L1873.85 1226.23M1906.04 1237.81L1916.33 1241.47M1948.63 1252.71L1958.79 1256.17M1991 1267.68L2001.47 1271.6" stroke="#FF0080"/></g><g fill="#FF0080" stroke="#FF0080" stroke-width="3.0" stroke-linejoin="round"><polygon points="614.17,1097.8 627.73,1108.88 622.55,1126.8 605.8,1126.8 600.62,1108.88"/><polygon points="656.7,933.6 670.25,944.68 665.07,962.6 648.33,962.6 643.15,944.68"/><polygon points="699.22,852.4 712.78,863.48 707.6,881.4 690.85,881.4 685.67,863.48"/><polygon points="741.75,818.6 755.3,829.68 750.12,847.6 733.38,847.6 728.2,829.68"/><polygon points="784.27,817.4 797.83,828.48 792.65,846.4 775.9,846.4 770.72,828.48"/><polygon points="826.8,824.9 840.35,835.98 835.17,853.9 818.43,853.9 813.25,835.98"/><polygon points="869.32,833.5 882.88,844.58 877.7,862.5 860.95,862.5 855.77,844.58"/><polygon points="911.85,843.4 925.4,854.48 920.22,872.4 903.48,872.4 898.3,854.48"/><polygon points="954.38,862.6 967.93,873.68 962.75,891.6 946,891.6 940.82,873.68"/><polygon points="996.9,879.9 1010.45,890.98 1005.27,908.9 988.53,908.9 983.35,890.98"/><polygon points="1039.42,896.5 1052.98,907.58 1047.8,925.5 1031.05,925.5 1025.87,907.58"/><polygon points="1081.95,912.6 1095.5,923.68 1090.32,941.6 1073.58,941.6 1068.4,923.68"/><polygon points="1124.47,929.25 1138.03,940.33 1132.85,958.25 1116.1,958.25 1110.92,940.33"/><polygon points="1167,947.5 1180.55,958.58 1175.37,976.5 1158.63,976.5 1153.45,958.58"/><polygon points="1209.53,962.6 1223.08,973.68 1217.9,991.6 1201.15,991.6 1195.97,973.68"/><polygon points="1252.05,979.8 1265.6,990.88 1260.42,1008.8 1243.68,1008.8 1238.5,990.88"/><polygon points="1294.57,995.1 1308.13,1006.18 1302.95,1024.1 1286.2,1024.1 1281.02,1006.18"/><polygon points="1337.1,1011.5 1350.65,1022.58 1345.47,1040.5 1328.73,1040.5 1323.55,1022.58"/><polygon points="1379.62,1028.4 1393.18,1039.48 1388,1057.4 1371.25,1057.4 1366.07,1039.48"/><polygon points="1422.15,1043.4 1435.7,1054.48 1430.52,1072.4 1413.78,1072.4 1408.6,1054.48"/><polygon points="1464.67,1060.1 1478.23,1071.18 1473.05,1089.1 1456.3,1089.1 1451.12,1071.18"/><polygon points="1507.2,1075.75 1520.75,1086.83 1515.57,1104.75 1498.83,1104.75 1493.65,1086.83"/><polygon points="1549.72,1091.4 1563.28,1102.48 1558.1,1120.4 1541.35,1120.4 1536.17,1102.48"/><polygon points="1592.25,1107.6 1605.8,1118.68 1600.62,1136.6 1583.88,1136.6 1578.7,1118.68"/><polygon points="1634.77,1122.7 1648.33,1133.78 1643.15,1151.7 1626.4,1151.7 1621.22,1133.78"/><polygon points="1677.3,1139.2 1690.85,1150.28 1685.67,1168.2 1668.93,1168.2 1663.75,1150.28"/><polygon points="1719.83,1154.6 1733.38,1165.68 1728.2,1183.6 1711.45,1183.6 1706.27,1165.68"/><polygon points="1762.35,1169.25 1775.9,1180.33 1770.72,1198.25 1753.98,1198.25 1748.8,1180.33"/><polygon points="1804.88,1185.2 1818.43,1196.28 1813.25,1214.2 1796.5,1214.2 1791.32,1196.28"/><polygon points="1847.4,1200.4 1860.95,1211.48 1855.77,1229.4 1839.03,1229.4 1833.85,1211.48"/><polygon points="1889.92,1215.9 1903.48,1226.98 1898.3,1244.9 1881.55,1244.9 1876.37,1226.98"/><polygon points="1932.45,1231 1946,1242.08 1940.82,1260 1924.08,1260 1918.9,1242.08"/><polygon points="1974.97,1245.5 1988.53,1256.58 1983.35,1274.5 1966.6,1274.5 1961.42,1256.58"/><polygon points="2017.5,1261.4 2031.05,1272.48 2025.87,1290.4 2009.13,1290.4 2003.95,1272.48"/></g></g><line x1="1168" y1="163" x2="1166" y2="1030" stroke="#000" stroke-width="12" stroke-linecap="round"/><polygon points="1154,1026 1177,1026 1165.8,1074" fill="#000" stroke="#000" stroke-width="8" stroke-linejoin="round"/><g font-family="Liberation Sans, Arial, sans-serif" font-weight="bold" fill="#000" stroke="#000" stroke-linejoin="round"><text transform="translate(141.89 88.02) scale(0.8851 1)" font-size="98.21" stroke-width="3.0" clip-path="url(#c1)">115</text><text transform="translate(141.94 341.93) scale(0.8914 1)" font-size="96.82" stroke-width="3.0" clip-path="url(#c2)">110</text><text transform="translate(142.05 595.83) scale(0.8669 1)" font-size="96.82" stroke-width="3.0" clip-path="url(#c3)">105</text><text transform="translate(142.08 849.73) scale(0.8607 1)" font-size="96.82" stroke-width="3.0" clip-path="url(#c4)">100</text><text transform="translate(186.32 1103.63) scale(0.8886 1)" font-size="96.82" stroke-width="3.0">95</text><text transform="translate(186.34 1357.53) scale(0.8796 1)" font-size="96.82" stroke-width="3.0">90</text><text transform="translate(291.76 1444.52) scale(0.8856 1)" font-size="97.81" stroke-width="3.0">0</text><text transform="translate(718.21 1444.51) scale(0.8655 1)" font-size="99.21" stroke-width="3.0">5</text><text transform="translate(1121.06 1444.52) scale(0.8547 1)" font-size="97.81" stroke-width="3.0" clip-path="url(#c5)">10</text><text transform="translate(1544.54 1444.51) scale(0.8426 1)" font-size="99.21" stroke-width="3.0" clip-path="url(#c6)">15</text><text transform="translate(1969.12 1444.52) scale(0.8720 1)" font-size="97.81" stroke-width="3.0">20</text><text transform="translate(1050.5 1544.3) scale(0.9066 1)" font-size="97.16" stroke-width="3.0">V</text><text transform="translate(1106.82 1581.42) scale(0.8626 1)" font-size="57.95" stroke-width="3.0">DS</text><text transform="translate(1198.95 1543.64) scale(0.8877 1)" font-size="94.26" stroke-width="3.0">(V)</text><text transform="translate(87.5 870.92) rotate(-90) scale(1.0902 1)" font-size="89.02" stroke-width="3.0">I</text><text transform="translate(121.37 843.9) rotate(-90) scale(1.0485 1)" font-size="53.29" stroke-width="3.0">DS</text><text transform="translate(86.58 738) rotate(-90) scale(1.1103 1)" font-size="85.90" stroke-width="3.0">(mA)</text><text transform="translate(1184.04 272.9) scale(0.8551 1)" font-size="98.18" stroke-width="3.0">T</text><text transform="translate(1234.3 310.33) scale(0.8897 1)" font-size="57.10" stroke-width="3.0">0</text><text transform="translate(1283.82 268.15) scale(1.0252 1)" font-size="85.30" stroke-width="3.0">=</text><text transform="translate(1355.35 272.44) scale(0.8952 1)" font-size="95.55" stroke-width="3.0">25</text><text transform="translate(1471.86 272.56) scale(0.9053 1)" font-size="98.21" stroke-width="3.0">°</text><text transform="translate(1505.94 273.01) scale(0.8441 1)" font-size="98.52" stroke-width="3.0">C</text><text transform="translate(1590.15 424.2) scale(0.8666 1)" font-size="97.60" stroke-width="3.0">T</text><text transform="translate(1639.77 462.82) scale(0.8976 1)" font-size="57.95" stroke-width="3.0">0</text><text transform="translate(1690.65 418.82) scale(1.0617 1)" font-size="82.91" stroke-width="3.0">=</text><text transform="translate(1764.07 425.02) scale(0.8460 1)" font-size="98.37" stroke-width="3.0" clip-path="url(#c7)">10</text><text transform="translate(1878.37 422.85) scale(0.9368 1)" font-size="95.61" stroke-width="3.0">°</text><text transform="translate(1913.38 425.02) scale(0.8304 1)" font-size="98.37" stroke-width="3.0">C</text><text transform="translate(1179.25 1264) scale(0.8616 1)" font-size="97.60" stroke-width="3.0">T</text><text transform="translate(1229.08 1300.33) scale(0.9175 1)" font-size="57.24" stroke-width="3.0">0</text><text transform="translate(1279.81 1258.33) scale(1.0215 1)" font-size="85.83" stroke-width="3.0">=</text><text transform="translate(1353.25 1263.62) scale(0.8588 1)" font-size="97.67" stroke-width="3.0" clip-path="url(#c8)">105</text><text transform="translate(1514.39 1263.31) scale(0.8851 1)" font-size="98.86" stroke-width="3.0">°</text><text transform="translate(1547.93 1263.61) scale(0.8406 1)" font-size="98.94" stroke-width="3.0">C</text></g></svg></body></html>
